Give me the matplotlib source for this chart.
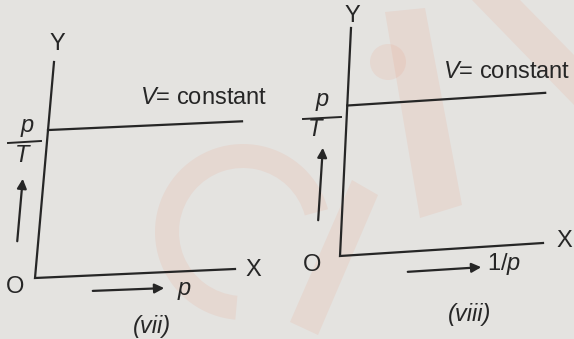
import numpy as np
import matplotlib.pyplot as plt
from matplotlib.patches import Wedge, Polygon, Circle
from matplotlib.transforms import Affine2D

plt.rcParams['font.family'] = ['Liberation Sans', 'DejaVu Sans']
plt.rcParams['mathtext.fontset'] = 'custom'
plt.rcParams['mathtext.rm'] = 'Liberation Sans'
plt.rcParams['mathtext.it'] = 'Liberation Sans:italic'

# two graphs: p/T against p and against 1/p at constant volume
panels = ["(vii)", "(viii)"]
x_names = ["$p$", "1/$p$"]

# frame of each graph (pixels): origin, end of X axis, end of Y axis
origin = [(35, 278), (340, 256)]
x_end = [(235, 269), (543, 243)]
y_end = [(54, 62), (351, 28)]

# p/T level of the V = constant line (fraction of axis height) and its span along X
level = [0.685, 0.66]
line_x = [[0.0, 0.97], [0.0, 0.975]]

ink = '#262626'
fig = plt.figure(figsize=(5.74, 3.39), dpi=100)
fig.patch.set_facecolor('#e4e3e0')
ax = fig.add_axes([0, 0, 1, 1])
ax.set_xlim(0, 574)
ax.set_ylim(339, 0)
ax.axis('off')

# faint stamp in the background
stamp = dict(facecolor='#eb9f86', edgecolor='none', alpha=0.16, zorder=0)
ax.add_patch(Wedge((243, 232), 88, 95, 345, width=24, **stamp))
ax.add_patch(Polygon([(290, 322), (318, 335), (378, 195), (352, 180)], **stamp))
ax.add_patch(Circle((388, 62), 18, **stamp))
ax.add_patch(Polygon([(385, 12), (425, 8), (462, 205), (420, 218)], **stamp))
ax.add_patch(Polygon([(472, 0), (520, 0), (574, 55), (574, 105)], **stamp))

for i in range(2):
    o, xe, ye = origin[i], x_end[i], y_end[i]
    frame = Affine2D.from_values(xe[0] - o[0], xe[1] - o[1],
                                 ye[0] - o[0], ye[1] - o[1],
                                 o[0], o[1]) + ax.transData
    # axes
    ax.plot([0, 0, 1], [1, 0, 0], color=ink, lw=1.6, transform=frame,
            solid_joinstyle='miter')
    # V = constant line
    ax.plot(line_x[i], [level[i], level[i]], color=ink, lw=1.6, transform=frame)

txt = dict(color=ink, fontsize=17, ha='center', va='center')
arrow = dict(arrowstyle='-|>', color=ink, lw=1.6, mutation_scale=14)

# left graph labels
ax.text(57, 44, "Y", **txt)
ax.text(253, 270, "X", **txt)
ax.text(15, 287, "O", **txt)
ax.text(204, 98, "$V$= constant", **txt)
ax.text(27, 128, "$p$", **txt)
ax.plot([8, 41], [143, 141], color=ink, lw=1.4)
ax.text(23, 156, "$T$", **txt)
ax.annotate("", xy=(23, 176), xytext=(17, 244), arrowprops=arrow)
ax.annotate("", xy=(167, 288), xytext=(90, 291), arrowprops=arrow)
ax.text(184, 291, x_names[0], **txt)
ax.text(152, 327, panels[0], style='italic', **txt)

# right graph labels
ax.text(352, 16, "Y", **txt)
ax.text(564, 241, "X", **txt)
ax.text(312, 265, "O", **txt)
ax.text(507, 72, "$V$= constant", **txt)
ax.text(322, 102, "$p$", **txt)
ax.plot([303, 341], [119, 117], color=ink, lw=1.4)
ax.text(316, 130, "$T$", **txt)
ax.annotate("", xy=(323, 145), xytext=(318, 223), arrowprops=arrow)
ax.annotate("", xy=(484, 267), xytext=(405, 272), arrowprops=arrow)
ax.text(504, 264, x_names[1], **txt)
ax.text(470, 315, panels[1], style='italic', **txt)

fig.savefig('out.png', dpi=100, facecolor=fig.get_facecolor())
